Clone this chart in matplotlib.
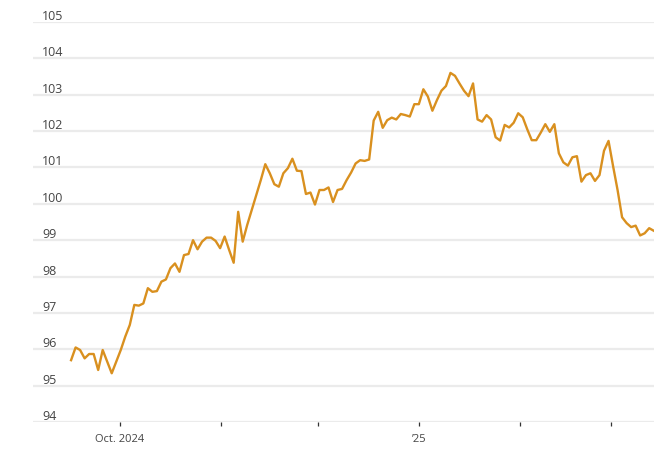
import matplotlib
matplotlib.use("Agg")
import matplotlib.pyplot as plt
import matplotlib.transforms as mtransforms
import pandas as pd

# daily index values, Sep 16 2024 - Mar 14 2025 (evenly spaced on the chart)
start_date = "2024-09-16"
end_date = "2025-03-14"
values = [
    95.70, 96.05, 95.98, 95.75, 95.87, 95.87, 95.43, 95.98, 95.66, 95.34,
    95.66, 95.98, 96.35, 96.67, 97.22, 97.20, 97.26, 97.68, 97.58, 97.60,
    97.86, 97.92, 98.23, 98.36, 98.13, 98.59, 98.62, 99.00, 98.75, 98.96,
    99.07, 99.07, 98.98, 98.78, 99.10, 98.73, 98.38, 99.78, 98.96, 99.42,
    99.83, 100.24, 100.65, 101.09, 100.84, 100.54, 100.47, 100.84, 100.98, 101.24,
    100.91, 100.90, 100.27, 100.31, 99.98, 100.38, 100.38, 100.45, 100.05, 100.38,
    100.41, 100.65, 100.86, 101.11, 101.20, 101.18, 101.22, 102.29, 102.53, 102.09,
    102.30, 102.37, 102.32, 102.47, 102.44, 102.40, 102.74, 102.74, 103.15, 102.95,
    102.56, 102.85, 103.11, 103.24, 103.60, 103.52, 103.31, 103.11, 102.96, 103.31,
    102.32, 102.26, 102.44, 102.32, 101.83, 101.74, 102.17, 102.10, 102.23, 102.49,
    102.38, 102.05, 101.75, 101.75, 101.96, 102.19, 101.98, 102.19, 101.39, 101.14,
    101.05, 101.28, 101.31, 100.61, 100.79, 100.84, 100.63, 100.79, 101.46, 101.73,
    101.04, 100.38, 99.63, 99.47, 99.36, 99.40, 99.13, 99.19, 99.33, 99.26,
]
dates = pd.date_range(start_date, end_date, periods=len(values))

y_ticks = [94, 95, 96, 97, 98, 99, 100, 101, 102, 103, 104, 105]
month_ticks = ["2024-10-01", "2024-11-01", "2024-12-01", "2025-01-01", "2025-02-01", "2025-03-01"]
month_labels = ["Oct. 2024", "", "", "\u201925", "", ""]

plt.rcParams["font.family"] = ["Open Sans", "DejaVu Sans"]

fig = plt.figure(figsize=(6.71, 4.55), dpi=100)
ax = fig.add_axes([33 / 671, 33 / 455, 620.7 / 671, 400 / 455])

ax.plot(dates, values, color="#d9901f", lw=1.7, solid_joinstyle="round", zorder=3)

# horizontal grid
for v in y_ticks:
    ax.axhline(v, color="#ebebeb", lw=1.6, zorder=1)

ax.set_ylim(94, 105)
ax.set_xlim(pd.Timestamp("2024-10-01") - pd.Timedelta(days=26.7), pd.Timestamp("2025-03-14"))

# y labels sit above the gridlines
off = mtransforms.offset_copy(ax.get_yaxis_transform(), fig=fig, x=0, y=2, units="dots")
for v in y_ticks:
    ax.text(9 / 620.7, v, str(v), transform=off, ha="left", va="baseline",
            fontsize=9, color="#444444")
ax.set_yticks([])

ax.set_xticks([pd.Timestamp(d) for d in month_ticks])
ax.set_xticklabels(month_labels, fontsize=8, color="#444444")
ax.tick_params(axis="x", direction="out", length=3, width=0.9, color="#333333", pad=6)

for s in ax.spines.values():
    s.set_visible(False)

fig.savefig("out.png", dpi=100)
